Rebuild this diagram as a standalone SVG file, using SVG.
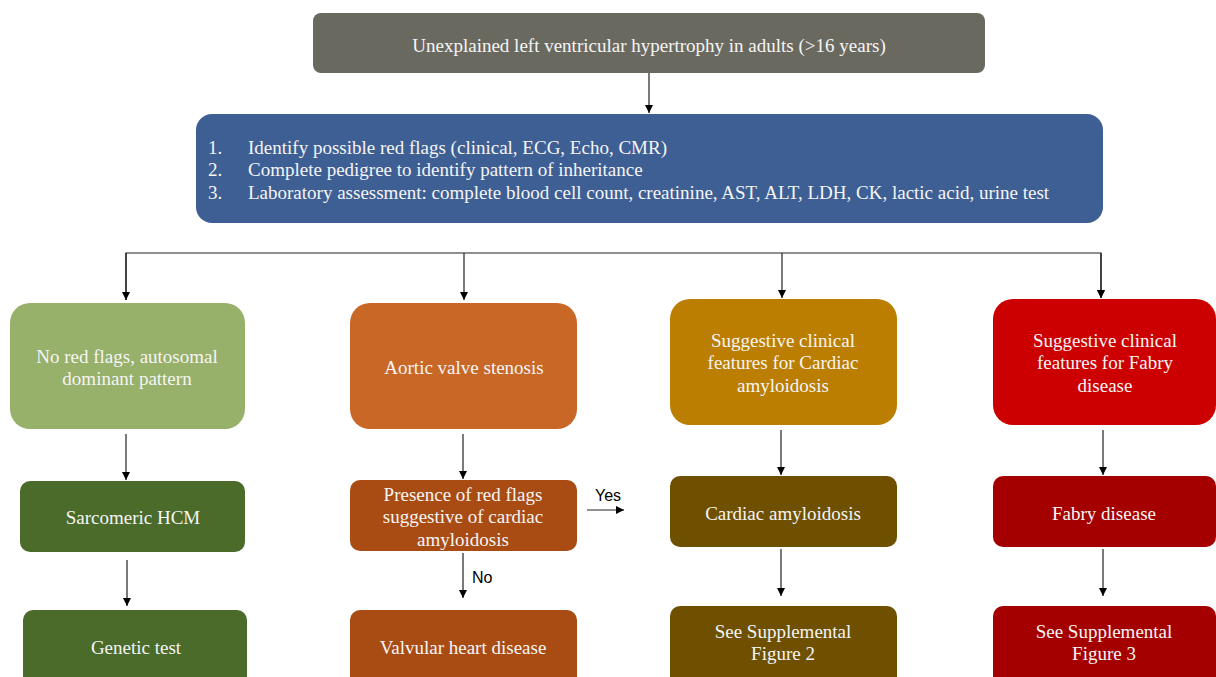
<svg xmlns="http://www.w3.org/2000/svg" width="1216" height="677" viewBox="0 0 1216 677">
<style>
.t{font-family:"Liberation Serif","Times New Roman",serif;font-size:19px;fill:#f5f5f5;text-anchor:middle}
.tl{font-family:"Liberation Serif","Times New Roman",serif;font-size:19px;fill:#f5f5f5}
.lbl{font-family:"Liberation Sans",Arial,sans-serif;font-size:16px;fill:#000}
.c{stroke:#222;stroke-width:1.2;fill:none}
</style>
<defs>
<marker id="ah" viewBox="0 0 10 10" refX="10" refY="5" markerWidth="8" markerHeight="8" markerUnits="userSpaceOnUse" orient="auto">
<path d="M0,0 L10,5 L0,10 z" fill="#000"/>
</marker>
</defs>
<rect width="1216" height="677" fill="#fff"/>
<g id="connectors">
<line class="c" x1="649" y1="73" x2="649" y2="113" marker-end="url(#ah)"/>
<polyline class="c" points="126,300 126,253 1101,253 1101,298" marker-end="url(#ah)"/>
<line class="c" x1="464" y1="253" x2="464" y2="300" marker-end="url(#ah)"/>
<line class="c" x1="782" y1="253" x2="782" y2="298" marker-end="url(#ah)"/>
<line class="c" x1="126" y1="253" x2="126" y2="300" marker-end="url(#ah)"/>
<line class="c" x1="1101" y1="253" x2="1101" y2="298" marker-end="url(#ah)"/>
<line class="c" x1="126" y1="434" x2="126" y2="480" marker-end="url(#ah)"/>
<line class="c" x1="463" y1="434" x2="463" y2="479" marker-end="url(#ah)"/>
<line class="c" x1="781" y1="430" x2="781" y2="475" marker-end="url(#ah)"/>
<line class="c" x1="1103" y1="430" x2="1103" y2="475" marker-end="url(#ah)"/>
<line class="c" x1="127" y1="560" x2="127" y2="606" marker-end="url(#ah)"/>
<line class="c" x1="463" y1="553" x2="463" y2="598" marker-end="url(#ah)"/>
<line class="c" x1="781" y1="549" x2="781" y2="596" marker-end="url(#ah)"/>
<line class="c" x1="1103" y1="549" x2="1103" y2="596" marker-end="url(#ah)"/>
<line class="c" x1="587" y1="510" x2="624" y2="510" marker-end="url(#ah)"/>
<text class="lbl" x="595" y="501">Yes</text>
<text class="lbl" x="472" y="583">No</text>
</g>
<g id="n-top">
<rect x="313" y="13" width="672" height="60" rx="8" fill="#6a6960"/>
<text class="t" x="649" y="52">Unexplained left ventricular hypertrophy in adults (&gt;16 years)</text>
</g>
<g id="n-steps">
<rect x="196" y="114" width="907" height="109" rx="16" fill="#3e5f94"/>
<text class="tl" x="208" y="154">1.</text>
<text class="tl" x="248" y="154">Identify possible red flags (clinical, ECG, Echo, CMR)</text>
<text class="tl" x="208" y="176">2.</text>
<text class="tl" x="248" y="176">Complete pedigree to identify pattern of inheritance</text>
<text class="tl" x="208" y="199">3.</text>
<text class="tl" x="248" y="199">Laboratory assessment: complete blood cell count, creatinine, AST, ALT, LDH, CK, lactic acid, urine test</text>
</g>
<g id="n-noflags">
<rect x="10" y="303" width="235" height="126" rx="20" fill="#97b06a"/>
<text class="t" x="127" y="363">No red flags, autosomal</text>
<text class="t" x="127" y="385">dominant pattern</text>
</g>
<g id="n-aortic">
<rect x="350" y="303" width="227" height="126" rx="20" fill="#c96727"/>
<text class="t" x="464" y="374">Aortic valve stenosis</text>
</g>
<g id="n-sugg-ca">
<rect x="670" y="299" width="227" height="126" rx="20" fill="#bb7e00"/>
<text class="t" x="783" y="347">Suggestive clinical</text>
<text class="t" x="783" y="369">features for Cardiac</text>
<text class="t" x="783" y="392">amyloidosis</text>
</g>
<g id="n-sugg-fabry">
<rect x="993" y="299" width="223" height="126" rx="20" fill="#cc0000"/>
<text class="t" x="1105" y="347">Suggestive clinical</text>
<text class="t" x="1105" y="369">features for Fabry</text>
<text class="t" x="1105" y="392">disease</text>
</g>
<g id="n-sarc">
<rect x="20" y="481" width="225" height="71" rx="10" fill="#4a6b2a"/>
<text class="t" x="133" y="524">Sarcomeric HCM</text>
</g>
<g id="n-presence">
<rect x="350" y="480" width="227" height="71" rx="10" fill="#a94c14"/>
<text class="t" x="463" y="501">Presence of red flags</text>
<text class="t" x="463" y="523">suggestive of cardiac</text>
<text class="t" x="463" y="546">amyloidosis</text>
</g>
<g id="n-ca">
<rect x="670" y="476" width="227" height="71" rx="10" fill="#6e5000"/>
<text class="t" x="783" y="520">Cardiac amyloidosis</text>
</g>
<g id="n-fabry">
<rect x="993" y="476" width="223" height="71" rx="10" fill="#a50000"/>
<text class="t" x="1104" y="520">Fabry disease</text>
</g>
<g id="n-genetic">
<rect x="23" y="610" width="224" height="80" rx="10" fill="#4a6b2a"/>
<text class="t" x="136" y="654">Genetic test</text>
</g>
<g id="n-valvular">
<rect x="350" y="610" width="227" height="80" rx="10" fill="#a94c14"/>
<text class="t" x="463" y="654">Valvular heart disease</text>
</g>
<g id="n-supp2">
<rect x="670" y="606" width="227" height="84" rx="10" fill="#6e5000"/>
<text class="t" x="783" y="638">See Supplemental</text>
<text class="t" x="783" y="660">Figure 2</text>
</g>
<g id="n-supp3">
<rect x="993" y="606" width="223" height="84" rx="10" fill="#a50000"/>
<text class="t" x="1104" y="638">See Supplemental</text>
<text class="t" x="1104" y="660">Figure 3</text>
</g>
</svg>
